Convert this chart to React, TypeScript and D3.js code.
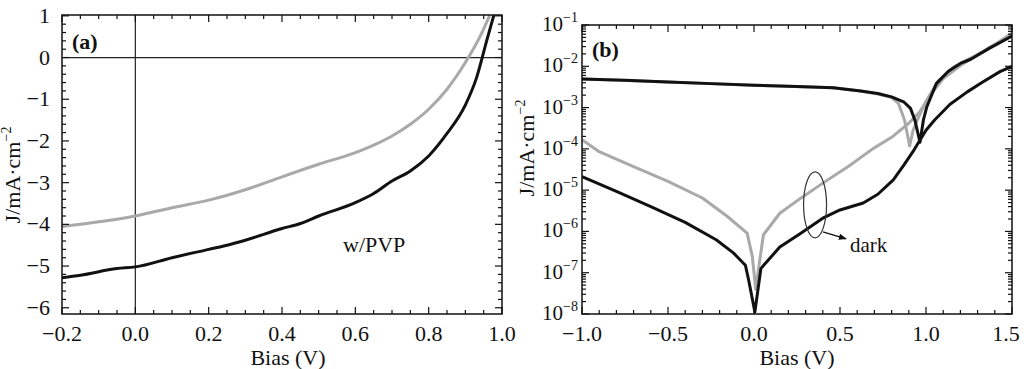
import React, { useEffect, useRef } from 'react';
import * as d3 from 'd3';

const FONT = '"Liberation Serif", "Times New Roman", Times, serif';
const GRAY = '#a9a9a9';

// panel (a): J-V under light
const biasGrayA = [-0.2, 0, 0.1, 0.2, 0.3, 0.4, 0.5, 0.6, 0.65, 0.7, 0.75, 0.8, 0.85, 0.9, 0.94, 0.967];
const jGrayA = [-4.05, -3.8, -3.6, -3.42, -3.17, -2.86, -2.56, -2.28, -2.1, -1.88, -1.6, -1.24, -0.76, -0.12, 0.5, 1.02];
const biasBlackA = [-0.2, -0.15, -0.05, 0, 0.1, 0.2, 0.25, 0.3, 0.4, 0.45, 0.5, 0.6, 0.65, 0.7, 0.75, 0.8, 0.85, 0.9, 0.93, 0.96, 0.978];
const jBlackA = [-5.28, -5.22, -5.06, -5.02, -4.8, -4.6, -4.5, -4.38, -4.1, -3.98, -3.8, -3.48, -3.26, -2.96, -2.72, -2.36, -1.82, -1.14, -0.5, 0.46, 1.02];
const xTicksA = [-0.2, 0, 0.2, 0.4, 0.6, 0.8, 1.0];
const yTicksA = [1, 0, -1, -2, -3, -4, -5, -6];

// panel (b): log10 |J| (mA/cm^2)
const biasBlackLight = [-1.0, -0.75, -0.5, -0.25, 0, 0.25, 0.46, 0.62, 0.72, 0.8, 0.87, 0.91, 0.935, 0.965, 0.985, 1.005, 1.06, 1.13, 1.2, 1.26, 1.37, 1.5];
const logBlackLight = [-2.31, -2.34, -2.38, -2.42, -2.46, -2.49, -2.52, -2.6, -2.66, -2.74, -2.86, -3.02, -3.3, -3.84, -3.3, -2.98, -2.42, -2.12, -1.93, -1.83, -1.56, -1.27];
const biasGrayLight = [-1.0, -0.5, 0, 0.46, 0.62, 0.72, 0.8, 0.84, 0.875, 0.905, 0.925, 0.95, 1.0, 1.07, 1.16, 1.27, 1.4, 1.5];
const logGrayLight = [-2.31, -2.38, -2.46, -2.52, -2.6, -2.67, -2.76, -2.9, -3.3, -3.93, -3.55, -3.3, -2.85, -2.36, -2.02, -1.78, -1.48, -1.2];
const biasGrayDark = [-1.0, -0.9, -0.7, -0.5, -0.3, -0.16, -0.04, -0.01, 0.01, 0.03, 0.055, 0.15, 0.27, 0.4, 0.55, 0.69, 0.8, 0.9, 0.96, 1.04, 1.1, 1.2, 1.3, 1.4, 1.5];
const logGrayDark = [-3.78, -4.07, -4.43, -4.79, -5.19, -5.62, -6.04, -6.6, -7.4, -6.8, -6.08, -5.56, -5.2, -4.83, -4.42, -4.0, -3.72, -3.38, -3.12, -2.62, -2.3, -1.98, -1.72, -1.47, -1.2];
const biasBlackDark = [-1.0, -0.8, -0.6, -0.4, -0.22, -0.12, -0.05, -0.03, 0.005, 0.04, 0.06, 0.15, 0.27, 0.4, 0.5, 0.635, 0.72, 0.81, 0.87, 0.93, 1.0, 1.05, 1.14, 1.24, 1.33, 1.43, 1.5];
const logBlackDark = [-4.67, -5.03, -5.4, -5.78, -6.2, -6.52, -6.82, -7.2, -7.95, -6.9, -6.8, -6.38, -6.05, -5.68, -5.48, -5.31, -5.1, -4.75, -4.4, -4.03, -3.55, -3.3, -2.92, -2.62, -2.38, -2.13, -2.0];
const xTicksB = [-1.0, -0.5, 0, 0.5, 1.0, 1.5];
const yExpB = [-1, -2, -3, -4, -5, -6, -7, -8];

type Sel = d3.Selection<SVGGElement, unknown, null, undefined>;

function frame(g: Sel, x: d3.ScaleLinear<number, number>, y: any, xMajor: number[], xMinor: number[], yMajor: number[], yMinor: number[]) {
  const [x0, x1] = x.range();
  const [y0, y1] = y.range();
  const tick = (vals: number[], len: number) => {
    vals.forEach((v) => {
      const px = x(v);
      g.append('line').attr('x1', px).attr('x2', px).attr('y1', y0).attr('y2', y0 - len);
      g.append('line').attr('x1', px).attr('x2', px).attr('y1', y1).attr('y2', y1 + len);
    });
  };
  const tickY = (vals: number[], len: number) => {
    vals.forEach((v) => {
      const py = y(v);
      g.append('line').attr('x1', x0).attr('x2', x0 + len).attr('y1', py).attr('y2', py);
      g.append('line').attr('x1', x1).attr('x2', x1 - len).attr('y1', py).attr('y2', py);
    });
  };
  tick(xMajor, 7);
  tick(xMinor, 4);
  tickY(yMajor, 7);
  tickY(yMinor, 4);
  g.selectAll('line').attr('stroke', '#111').attr('stroke-width', 1.2);
  g.append('rect')
    .attr('x', x0).attr('y', y1).attr('width', x1 - x0).attr('height', y0 - y1)
    .attr('fill', 'none').attr('stroke', '#111').attr('stroke-width', 1.5);
}

function yLabel(svg: any, cx: number, cy: number) {
  const t = svg.append('text')
    .attr('transform', `translate(${cx},${cy}) rotate(-90)`)
    .attr('text-anchor', 'middle')
    .attr('font-family', FONT).attr('font-size', 22).attr('fill', '#111');
  t.append('tspan').text('J/mA·cm');
  t.append('tspan').attr('dy', -9).attr('font-size', 14).text('−2');
}

const App: React.FC = () => {
  const svgRef = useRef<SVGSVGElement>(null);

  useEffect(() => {
    if (!svgRef.current) return;
    const svg = d3.select(svgRef.current);
    svg.selectAll('*').remove();

    // ---------- panel (a)
    const xa = d3.scaleLinear().domain([-0.2, 1.0]).range([62, 502]);
    const ya = d3.scaleLinear().domain([-6.15, 1.02]).range([314, 15]);

    svg.append('clipPath').attr('id', 'clipA').append('rect')
      .attr('x', 62).attr('y', 15).attr('width', 440).attr('height', 299);

    const ga = svg.append('g');
    ga.append('line').attr('x1', xa(-0.2)).attr('x2', xa(1.0)).attr('y1', ya(0)).attr('y2', ya(0))
      .attr('stroke', '#222').attr('stroke-width', 1.2);
    ga.append('line').attr('x1', xa(0)).attr('x2', xa(0)).attr('y1', ya(-6.15)).attr('y2', ya(1.02))
      .attr('stroke', '#222').attr('stroke-width', 1.2);

    const lineA = d3.line<number>().curve(d3.curveMonotoneX);
    const curvesA = ga.append('g').attr('clip-path', 'url(#clipA)');
    curvesA.append('path')
      .attr('d', lineA.x((_, i) => xa(biasGrayA[i])).y((d) => ya(d))(jGrayA))
      .attr('fill', 'none').attr('stroke', GRAY).attr('stroke-width', 3);
    curvesA.append('path')
      .attr('d', lineA.x((_, i) => xa(biasBlackA[i])).y((d) => ya(d))(jBlackA))
      .attr('fill', 'none').attr('stroke', '#111').attr('stroke-width', 3);

    const fa = ga.append('g');
    frame(
      fa, xa, ya,
      xTicksA, d3.range(-0.15, 1.0, 0.05).filter((v) => Math.abs(v * 5 - Math.round(v * 5)) > 0.01),
      yTicksA, d3.range(-6.0, 1.0, 0.2).filter((v) => Math.abs(v - Math.round(v)) > 0.01)
    );

    const fmtX = d3.format('.1f');
    ga.selectAll('.xt').data(xTicksA).join('text')
      .attr('x', (d) => xa(d)).attr('y', 341).attr('text-anchor', 'middle')
      .attr('font-family', FONT).attr('font-size', 22).attr('fill', '#111')
      .text((d) => fmtX(d));
    ga.selectAll('.yt').data(yTicksA).join('text')
      .attr('x', 50).attr('y', (d) => ya(d) + 7).attr('text-anchor', 'end')
      .attr('font-family', FONT).attr('font-size', 22).attr('fill', '#111')
      .text((d) => d3.format('d')(d));

    ga.append('text').attr('x', 288).attr('y', 365).attr('text-anchor', 'middle')
      .attr('font-family', FONT).attr('font-size', 22).attr('fill', '#111').text('Bias (V)');
    yLabel(svg, 20, 175);
    ga.append('text').attr('x', 72).attr('y', 49)
      .attr('font-family', FONT).attr('font-size', 22).attr('font-weight', 'bold').attr('fill', '#111').text('(a)');
    ga.append('text').attr('x', 343).attr('y', 252)
      .attr('font-family', FONT).attr('font-size', 22).attr('fill', '#111').text('w/PVP');

    // ---------- panel (b)
    const xb = d3.scaleLinear().domain([-1.0, 1.5]).range([582, 1012]);
    const yb = d3.scaleLog().domain([1e-8, 1e-1]).range([314, 25]);

    svg.append('clipPath').attr('id', 'clipB').append('rect')
      .attr('x', 582).attr('y', 25).attr('width', 430).attr('height', 289);

    const gb = svg.append('g');
    const lineB = (vs: number[], ls: number[]) =>
      d3.line<number>().x((_, i) => xb(vs[i])).y((d) => yb(Math.pow(10, d)))(ls);
    const curvesB = gb.append('g').attr('clip-path', 'url(#clipB)')
      .attr('fill', 'none').attr('stroke-width', 3).attr('stroke-linejoin', 'round');
    curvesB.append('path').attr('d', lineB(biasGrayLight, logGrayLight)).attr('stroke', GRAY);
    curvesB.append('path').attr('d', lineB(biasGrayDark, logGrayDark)).attr('stroke', GRAY);
    curvesB.append('path').attr('d', lineB(biasBlackDark, logBlackDark)).attr('stroke', '#111');
    curvesB.append('path').attr('d', lineB(biasBlackLight, logBlackLight)).attr('stroke', '#111');

    const minorB: number[] = [];
    for (let k = -8; k < -1; k++) for (let m = 2; m <= 9; m++) minorB.push(m * Math.pow(10, k));
    const fb = gb.append('g');
    frame(
      fb, xb, yb,
      xTicksB, d3.range(-0.9, 1.5, 0.1).filter((v) => Math.abs(v * 2 - Math.round(v * 2)) > 0.01),
      yExpB.map((e) => Math.pow(10, e)), minorB
    );

    // last label sits at the page edge; keep it inside
    gb.selectAll('.xt').data(xTicksB).join('text')
      .attr('x', (d) => Math.min(xb(d), 1006)).attr('y', 341).attr('text-anchor', 'middle')
      .attr('font-family', FONT).attr('font-size', 22).attr('fill', '#111')
      .text((d) => fmtX(d));
    yExpB.forEach((e) => {
      const t = gb.append('text')
        .attr('x', 578).attr('y', yb(Math.pow(10, e)) + 6).attr('text-anchor', 'end')
        .attr('font-family', FONT).attr('font-size', 21).attr('fill', '#111');
      t.append('tspan').text('10');
      t.append('tspan').attr('dy', -9).attr('font-size', 14).text(`−${-e}`);
    });

    gb.append('text').attr('x', 797).attr('y', 365).attr('text-anchor', 'middle')
      .attr('font-family', FONT).attr('font-size', 22).attr('fill', '#111').text('Bias (V)');
    yLabel(svg, 534, 148);
    gb.append('text').attr('x', 592).attr('y', 57)
      .attr('font-family', FONT).attr('font-size', 22).attr('font-weight', 'bold').attr('fill', '#111').text('(b)');

    // "dark" annotation
    const ecx = xb(0.355);
    const ecy = yb(Math.pow(10, -5.355));
    gb.append('ellipse').attr('cx', ecx).attr('cy', ecy).attr('rx', 11.5).attr('ry', 33)
      .attr('fill', 'none').attr('stroke', '#333').attr('stroke-width', 1.2);
    const defs = svg.append('defs');
    defs.append('marker').attr('id', 'arr').attr('viewBox', '0 0 10 10')
      .attr('refX', 9).attr('refY', 5).attr('markerWidth', 8).attr('markerHeight', 8)
      .attr('orient', 'auto').attr('markerUnits', 'userSpaceOnUse')
      .append('path').attr('d', 'M0,1 L10,5 L0,9 Z').attr('fill', '#111');
    gb.append('line')
      .attr('x1', xb(0.401)).attr('y1', yb(Math.pow(10, -6.01)))
      .attr('x2', xb(0.535)).attr('y2', yb(Math.pow(10, -6.18)))
      .attr('stroke', '#111').attr('stroke-width', 1.2).attr('marker-end', 'url(#arr)');
    gb.append('text').attr('x', xb(0.558)).attr('y', yb(Math.pow(10, -6.51)))
      .attr('font-family', FONT).attr('font-size', 21).attr('fill', '#111').text('dark');
  }, []);

  return (
    <svg
      ref={svgRef}
      width={1024}
      height={369}
      style={{ position: 'absolute', left: 0, top: 0, background: '#fff' }}
    />
  );
};

export default App;
